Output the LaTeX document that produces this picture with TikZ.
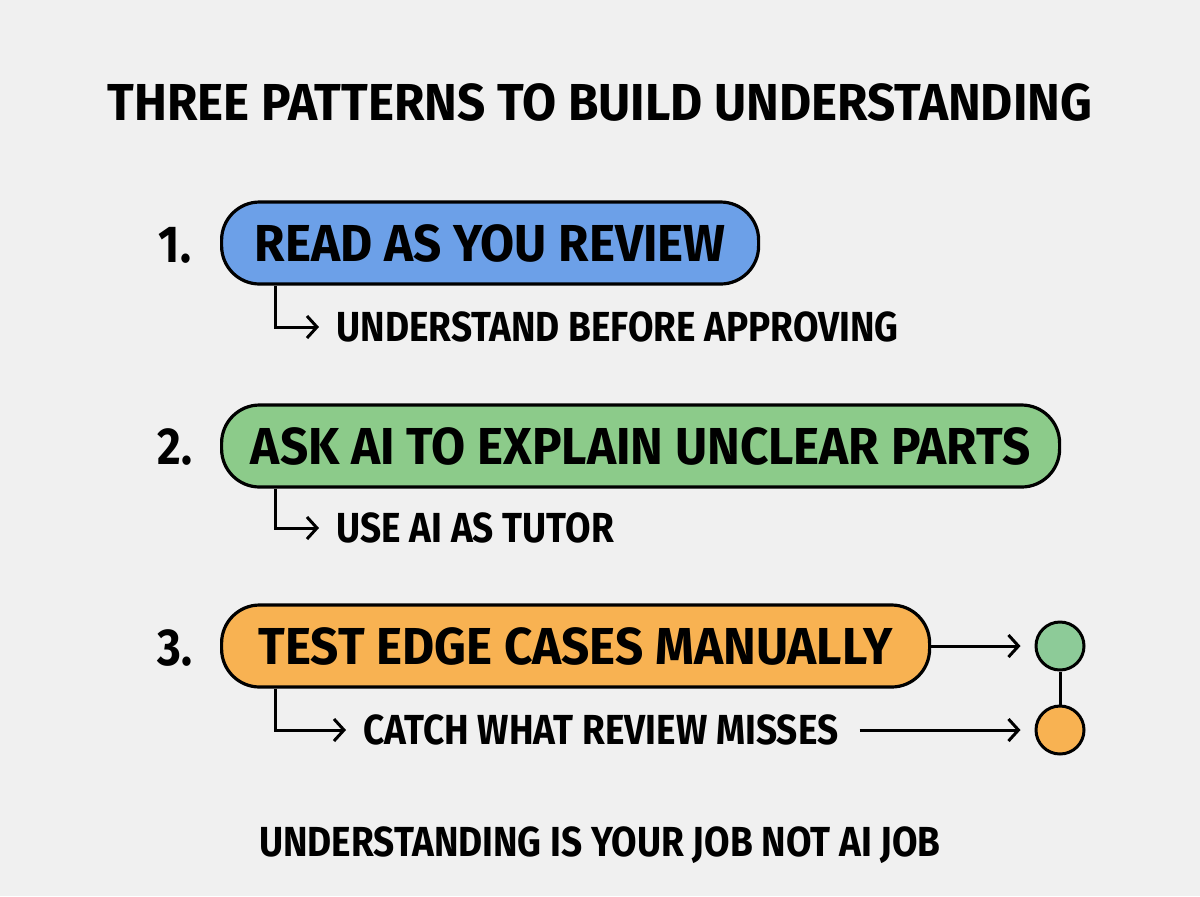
\documentclass[tikz,border=0pt]{standalone}
\usepackage{fontspec}
\setmainfont{Fira Sans}[FakeStretch=0.88]
\newfontfamily\widefont{Fira Sans}[FakeStretch=0.95]
\usetikzlibrary{positioning, arrows.meta, calc}

\definecolor{paper}{HTML}{F0F0F0}
\definecolor{pillblue}{HTML}{6CA0E8}
\definecolor{pillgreen}{HTML}{8CCB8A}
\definecolor{pillorange}{HTML}{F8B252}
\definecolor{dotgreen}{HTML}{8DCB98}

\tikzset{
  pill/.style={draw, line width=1.6pt, rounded corners=19pt, anchor=west,
    minimum height=41pt, inner xsep=0pt,
    font=\widefont\bfseries\fontsize{26}{28}\selectfont},
  subline/.style={anchor=west, inner sep=0pt,
    font=\bfseries\fontsize{21}{24}\selectfont},
  numlabel/.style={font=\bfseries\fontsize{26}{28}\selectfont},
  elbow/.style={->, shorten >=8pt},
  dot/.style={circle, draw, line width=1.5pt, minimum size=24pt, inner sep=0pt}
}

\begin{document}
\begin{tikzpicture}[x=0.5pt, y=-0.5pt, line width=1.5pt,
  >={Straight Barb[length=5pt, width=11pt]}]
  \fill[paper] (0,0) rectangle (1200,896);
  \useasboundingbox (0,0) rectangle (1200,896);

  % title
  \node[font=\widefont\bfseries\fontsize{26}{28}\selectfont] (title) at (600,102)
    {THREE PATTERNS TO BUILD UNDERSTANDING};

  % pattern 1
  \node[numlabel] (num1) at (175,245) {1.};
  \node[pill, fill=pillblue, minimum width=268.5pt] (box1) at (220,243)
    {READ AS YOU REVIEW};
  \node[subline] (sub1) at (335,327) {UNDERSTAND BEFORE APPROVING};
  \draw[elbow] ([xshift=27.5pt]box1.south west) |- (sub1.west);

  % pattern 2
  \node[numlabel] (num2) at (175,447) {2.};
  \node[pill, fill=pillgreen, minimum width=419pt] (box2) at (220,446)
    {ASK AI TO EXPLAIN UNCLEAR PARTS};
  \node[subline] (sub2) at (335,528) {USE AI AS TUTOR};
  \draw[elbow] ([xshift=27.5pt]box2.south west) |- (sub2.west);

  % pattern 3
  \node[numlabel] (num3) at (175,648) {3.};
  \node[pill, fill=pillorange, minimum width=354pt] (box3) at (220,646)
    {TEST EDGE CASES MANUALLY};
  \node[subline] (sub3) at (362,730) {CATCH WHAT REVIEW MISSES};
  \draw[elbow] ([xshift=27.5pt]box3.south west) |- (sub3.west);

  % outcome dots
  \node[dot, fill=dotgreen] (dotA) at (1060,646) {};
  \node[dot, fill=pillorange] (dotB) at (1060,730) {};
  \draw (dotA) -- (dotB);
  \draw[->, shorten >=7pt] (box3.east) -- (dotA.west);
  \draw[->, shorten <=10pt, shorten >=7pt] (sub3.east) -- (sub3.east -| dotB.west);

  % closing line
  \node[font=\bfseries\fontsize{21}{24}\selectfont] (motto) at (600,845)
    {UNDERSTANDING IS YOUR JOB NOT AI JOB};
\end{tikzpicture}
\end{document}
